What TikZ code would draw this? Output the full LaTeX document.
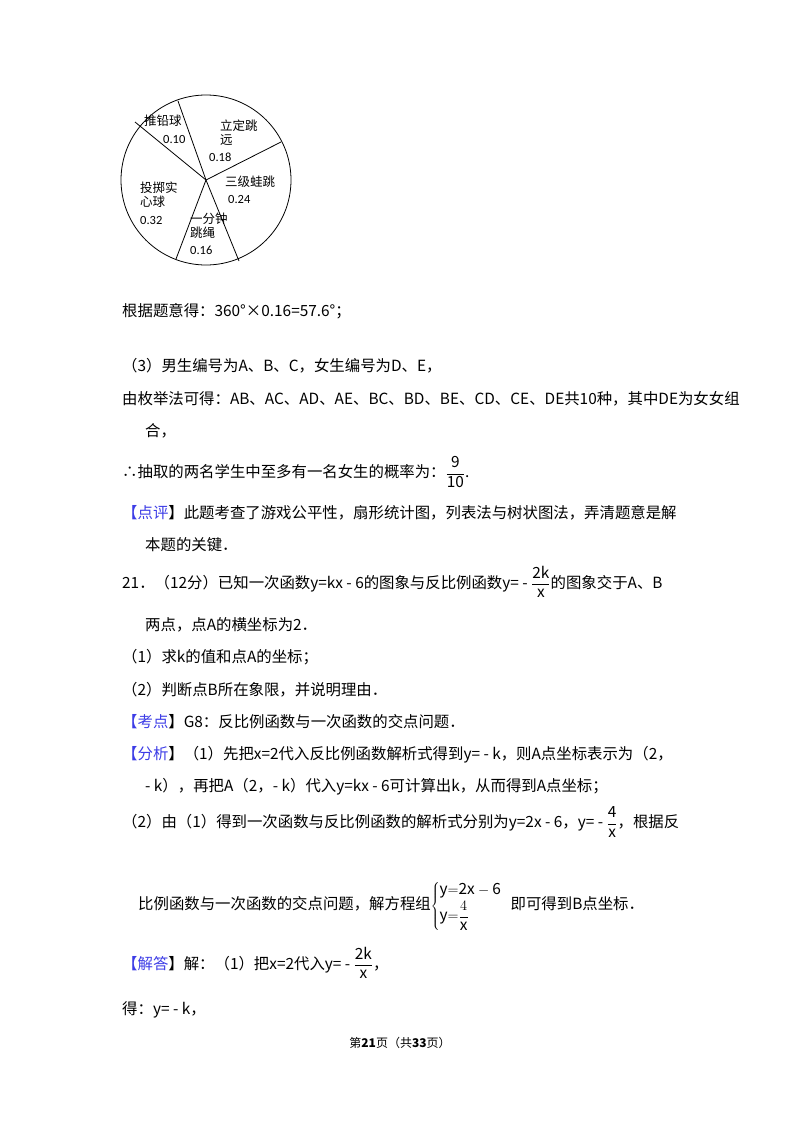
\documentclass[tikz,border=0pt]{standalone}
\usepackage{fontspec}
\setmainfont{Noto Sans CJK SC}
\newfontfamily\lat{Carlito}
\definecolor{tagblue}{RGB}{60,60,230}
\newcommand{\myfr}[2]{$\displaystyle\frac{\mathrm{#1}}{\mathrm{#2}}$}
\begin{document}
\begin{tikzpicture}[x=1pt,y=-1pt,
  ln/.style={anchor=west,inner sep=0pt,font=\fontsize{15.4}{18}\selectfont},
  pl/.style={inner sep=0pt,font=\fontsize{12.5}{14}\selectfont,align=left,anchor=north west}]
\useasboundingbox (0,0) rectangle (800,1132);
% pie
\coordinate (c) at (206,180);
\node[circle,draw,line width=0.8pt,minimum size=170pt,inner sep=0pt] (pie) at (c) {};
\coordinate (e1) at (178,101);
\coordinate (e2) at (281,142);
\coordinate (e3) at (239,261);
\coordinate (e4) at (176,259);
\coordinate (e5) at (135,122);
\foreach \e in {e1,e2,e3,e4,e5} \draw[line width=0.8pt] (c) -- (\e);
\node[pl] (l1) at (144,115) {推铅球};
\node[pl] (l1n) at (163,135) {\lat 0.10};
\node[pl] (l2) at (220,120) {立定跳\\远};
\node[pl] (l2n) at (209,153) {\lat 0.18};
\node[pl] (l3) at (225,176) {三级蛙跳};
\node[pl] (l3n) at (228,195) {\lat 0.24};
\node[pl] (l4) at (140,182) {投掷实\\心球};
\node[pl] (l4n) at (140,216) {\lat 0.32};
\node[pl] (l5) at (190,213) {一分钟\\跳绳};
\node[pl] (l5n) at (190,246) {\lat 0.16};
% text
\node[ln] (t1) at (122,311) {根据题意得：360°×0.16=57.6°；};
\node[ln] (t2) at (122,366) {（3）男生编号为A、B、C，女生编号为D、E，};
\node[ln] (t3) at (122,399) {由枚举法可得：AB、AC、AD、AE、BC、BD、BE、CD、CE、DE共10种，其中DE为女女组};
\node[ln] (t4) at (145,431) {合，};
\node[ln] (t5) at (122,472) {∴抽取的两名学生中至多有一名女生的概率为：\myfr{9}{10}.};
\node[ln] (t6) at (122,513) {{\color{tagblue}【点评}】此题考查了游戏公平性，扇形统计图，列表法与树状图法，弄清题意是解};
\node[ln] (t7) at (145,545) {本题的关键．};
\node[ln] (t8) at (122,582) {21．（12分）已知一次函数y=kx - 6的图象与反比例函数y= - \myfr{2k}{x}的图象交于A、B};
\node[ln] (t9) at (145,625) {两点，点A的横坐标为2．};
\node[ln] (t10) at (122,657) {（1）求k的值和点A的坐标；};
\node[ln] (t11) at (122,690) {（2）判断点B所在象限，并说明理由．};
\node[ln] (t12) at (122,722) {{\color{tagblue}【考点}】G8：反比例函数与一次函数的交点问题．};
\node[ln] (t13) at (122,755) {{\color{tagblue}【分析}】（1）先把x=2代入反比例函数解析式得到y= - k，则A点坐标表示为（2，};
\node[ln] (t14) at (145,787) {- k），再把A（2，- k）代入y=kx - 6可计算出k，从而得到A点坐标；};
\node[ln] (t15) at (122,822) {（2）由（1）得到一次函数与反比例函数的解析式分别为y=2x - 6，y= - \myfr{4}{x}，根据反};
\node[ln] (t16) at (138,906) {比例函数与一次函数的交点问题，解方程组$\left\{\begin{array}{@{}l}\mathrm{y{=}2x-6}\\[2pt] \mathrm{y{=}}\displaystyle\frac{4}{\mathrm{x}}\end{array}\right.$ 即可得到B点坐标．};
\node[ln] (t17) at (122,963) {{\color{tagblue}【解答}】解：（1）把x=2代入y= - \myfr{2k}{x}，};
\node[ln] (t18) at (122,1010) {得：y= - k，};
\node[inner sep=0pt,font=\fontsize{12}{14}\selectfont] (ft) at (400,1043) {第\textbf{21}页（共\textbf{33}页）};
\end{tikzpicture}
\end{document}
